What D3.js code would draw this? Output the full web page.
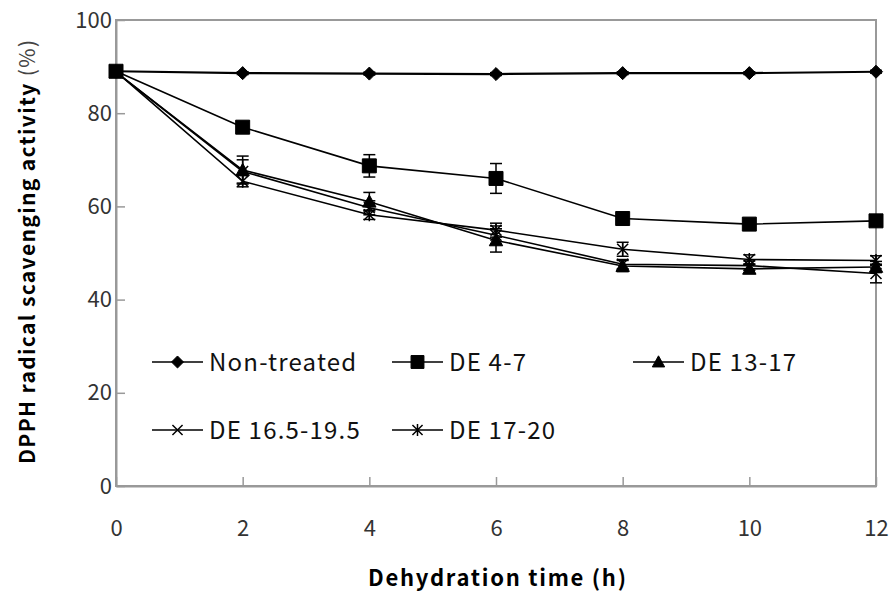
<!DOCTYPE html>
<html>
<head>
<meta charset="utf-8">
<script src="https://cdn.jsdelivr.net/npm/d3@7"></script>
<style>
  body { margin: 0; background: #fff; }
  text { font-family: "Noto Sans CJK KR", "Noto Sans", sans-serif; }
</style>
</head>
<body>
<div id="graphic"></div>
<script>
// dehydration time (h)
var hours = [0, 2, 4, 6, 8, 10, 12];
var yTicks = [0, 20, 40, 60, 80, 100];

var names = ["Non-treated", "DE 4-7", "DE 13-17", "DE 16.5-19.5", "DE 17-20"];
var nonTreated = [89.0, 88.6, 88.5, 88.4, 88.6, 88.6, 88.9];
var de4to7 = [89.0, 77.0, 68.7, 66.0, 57.4, 56.2, 56.9];
var de13to17 = [88.8, 67.8, 61.0, 52.7, 47.2, 46.6, 47.0];
var de165to195 = [88.8, 67.5, 59.7, 53.8, 47.6, 47.3, 45.6];
var de17to20 = [88.9, 65.4, 58.2, 54.9, 50.8, 48.6, 48.4];

var errNonTreated = [0.5, 0.3, 0.3, 0.3, 0.3, 0.3, 0.3];
var err4to7 = [1.0, 0.8, 2.4, 3.2, 1.2, 0.8, 0.8];
var err13to17 = [1.0, 3.0, 2.0, 2.5, 1.2, 1.0, 1.2];
var err165to195 = [1.0, 2.5, 1.5, 2.0, 1.0, 1.0, 2.0];
var err17to20 = [1.0, 1.2, 1.0, 1.5, 1.5, 1.0, 1.0];

var values = [nonTreated, de4to7, de13to17, de165to195, de17to20];
var errors = [errNonTreated, err4to7, err13to17, err165to195, err17to20];

var graphic = {};
var W = 893, H = 598;
var box = {left: 116, right: 876, top: 20, bottom: 486};

// marker shapes, drawn around 0,0
var shapes = {
  diamond: {draw: function(p, s) { var r = Math.sqrt(s) / 2; p.moveTo(0, -r); p.lineTo(r, 0); p.lineTo(0, r); p.lineTo(-r, 0); p.closePath(); }},
  square: {draw: function(p, s) { var r = Math.sqrt(s) / 2; p.rect(-r, -r, 2 * r, 2 * r); }},
  triangle: {draw: function(p, s) { var r = Math.sqrt(s) / 2; p.moveTo(0, -r); p.lineTo(r, r * 0.8); p.lineTo(-r, r * 0.8); p.closePath(); }},
  cross: {draw: function(p, s) { var r = Math.sqrt(s) / 2; p.moveTo(-r, -r); p.lineTo(r, r); p.moveTo(r, -r); p.lineTo(-r, r); }},
  star: {draw: function(p, s) { var r = Math.sqrt(s) / 2; p.moveTo(-r, -r); p.lineTo(r, r); p.moveTo(r, -r); p.lineTo(-r, r); p.moveTo(0, -r * 1.2); p.lineTo(0, r * 1.2); }}
};
var markers = [
  {shape: shapes.diamond, size: 170, filled: true},
  {shape: shapes.square, size: 196, filled: true},
  {shape: shapes.triangle, size: 180, filled: true},
  {shape: shapes.cross, size: 120, filled: false},
  {shape: shapes.star, size: 120, filled: false}
];
var lineWidths = [2.2, 1.6, 1.6, 1.6, 1.6];

graphic.create = function() {
  var svg = d3.select("#graphic").append("svg").attr("width", W).attr("height", H);
  var x = d3.scaleLinear().domain([0, 12]).range([box.left, box.right]);
  var y = d3.scaleLinear().domain([0, 100]).range([box.bottom, box.top]);

  // plot frame
  svg.append("rect").attr("x", box.left).attr("y", box.top)
    .attr("width", box.right - box.left).attr("height", box.bottom - box.top)
    .attr("fill", "none").attr("stroke", "#999").attr("stroke-width", 2);

  var yAxis = svg.append("g").attr("transform", "translate(" + box.left + ",0)")
    .call(d3.axisLeft(y).tickValues(yTicks).tickSizeInner(-9).tickSizeOuter(0).tickPadding(4));
  var xAxis = svg.append("g").attr("transform", "translate(0," + box.bottom + ")")
    .call(d3.axisBottom(x).tickValues(hours).tickSizeInner(-9).tickSizeOuter(0).tickPadding(34));
  [xAxis, yAxis].forEach(function(a) {
    a.select(".domain").attr("stroke", "#999").attr("stroke-width", 2);
    a.selectAll(".tick line").attr("stroke", "#999").attr("stroke-width", 1.5);
    a.selectAll(".tick text").attr("fill", "#333").style("font-size", "22px").attr("font-family", "Noto Sans CJK KR");
  });

  var line = d3.line().x(function(d, i) { return x(hours[i]); }).y(function(d) { return y(d); });

  values.forEach(function(vals, k) {
    var g = svg.append("g");
    g.append("path").datum(vals).attr("d", line).attr("fill", "none")
      .attr("stroke", "#000").attr("stroke-width", lineWidths[k]);
    // error bars
    var eb = g.selectAll(".eb").data(vals).enter().append("g");
    eb.append("line")
      .attr("x1", function(d, i) { return x(hours[i]); }).attr("x2", function(d, i) { return x(hours[i]); })
      .attr("y1", function(d, i) { return y(d - errors[k][i]); }).attr("y2", function(d, i) { return y(d + errors[k][i]); })
      .attr("stroke", "#000").attr("stroke-width", 1.5);
    [-1, 1].forEach(function(sgn) {
      eb.append("line")
        .attr("x1", function(d, i) { return x(hours[i]) - 6; }).attr("x2", function(d, i) { return x(hours[i]) + 6; })
        .attr("y1", function(d, i) { return y(d + sgn * errors[k][i]); }).attr("y2", function(d, i) { return y(d + sgn * errors[k][i]); })
        .attr("stroke", "#000").attr("stroke-width", 1.5);
    });
    var m = markers[k];
    g.selectAll(".mk").data(vals).enter().append("path")
      .attr("transform", function(d, i) { return "translate(" + x(hours[i]) + "," + y(d) + ")"; })
      .attr("d", d3.symbol().type(m.shape).size(m.size))
      .attr("fill", m.filled ? "#000" : "none").attr("stroke", "#000").attr("stroke-width", m.filled ? 1 : 1.5);
  });

  // legend
  var legendPos = [[152, 362], [392, 362], [633, 362], [152, 430], [392, 430]];
  names.forEach(function(name, k) {
    var p = legendPos[k];
    var lg = svg.append("g").attr("transform", "translate(" + p[0] + "," + p[1] + ")");
    lg.append("line").attr("x1", 0).attr("x2", 51).attr("y1", 0).attr("y2", 0)
      .attr("stroke", "#000").attr("stroke-width", 1.6);
    var m = markers[k];
    lg.append("path").attr("transform", "translate(25.5,0)")
      .attr("d", d3.symbol().type(m.shape).size(m.size * 0.85))
      .attr("fill", m.filled ? "#000" : "none").attr("stroke", "#000").attr("stroke-width", m.filled ? 1 : 1.5);
    lg.append("text").attr("x", 57).attr("y", 0).attr("dy", "0.36em")
      .style("font-size", "24px").style("letter-spacing", "1.2px").attr("fill", "#111").text(name);
  });

  // axis titles
  var yt = svg.append("text").attr("transform", "translate(35,252) rotate(-90)")
    .attr("text-anchor", "middle").style("font-size", "21px").attr("fill", "#000")
    .attr("textLength", 424).attr("lengthAdjust", "spacing");
  yt.append("tspan").attr("font-weight", "bold").text("DPPH radical scavenging activity ");
  yt.append("tspan").attr("fill", "#444").text("(%)");

  svg.append("text").attr("x", 497).attr("y", 586).attr("text-anchor", "middle")
    .attr("font-weight", "bold").style("font-size", "22px").attr("fill", "#000")
    .attr("textLength", 258).attr("lengthAdjust", "spacing")
    .text("Dehydration time (h)");
};

graphic.create();
</script>
</body>
</html>
